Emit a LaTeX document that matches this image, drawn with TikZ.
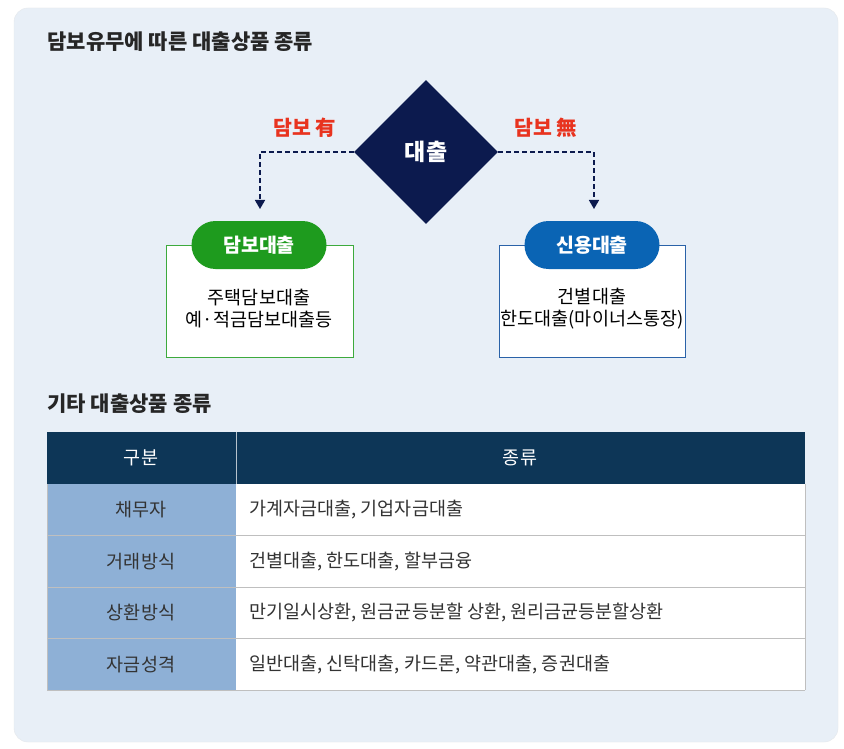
\documentclass[tikz,border=0pt]{standalone}
\usepackage{fontspec}
\setmainfont{Noto Sans CJK KR}
\newfontfamily\medfont{Noto Sans CJK KR Medium}
\usetikzlibrary{shapes.geometric,arrows.meta}
\definecolor{bgc}{HTML}{E8EFF7}
\definecolor{navy}{HTML}{0C1A4E}
\definecolor{redl}{HTML}{E8331F}
\definecolor{grn}{HTML}{1E9B1E}
\definecolor{grnb}{HTML}{3DAA3D}
\definecolor{blu}{HTML}{0A64B4}
\definecolor{blub}{HTML}{2A62A8}
\definecolor{hdr}{HTML}{0D3657}
\definecolor{colc}{HTML}{8EB0D6}
\definecolor{txt}{HTML}{333333}
\tikzset{
 conn/.style={navy,dashed,line width=1.6pt,dash pattern=on 5pt off 3pt,-{Triangle[length=9pt,width=10pt]}},
 pill/.style={rounded corners=24pt,minimum width=135pt,minimum height=48pt,text=white,font=\fontsize{19.5}{22}\selectfont\bfseries},
 body/.style={fill=white,line width=1pt},
 cell/.style={font=\fontsize{18.5}{22}\selectfont,text=txt},
 ttl/.style={anchor=west,font=\fontsize{21}{24}\selectfont\bfseries,text=black!85},
}
\begin{document}
\begin{tikzpicture}[x=1pt,y=-1pt]
\useasboundingbox (0,0) rectangle (844,749);
\fill[white] (0,0) rectangle (844,749);
\draw[bgc!80!gray!60,fill=bgc,rounded corners=14pt] (14,8) rectangle (838,742);
\node[ttl] (t1) at (44,42) {담보유무에 따른 대출상품 종류};
\node[diamond,fill=navy,minimum width=144pt,minimum height=144pt,inner sep=0pt,text=white,font=\fontsize{23}{26}\selectfont\bfseries] (d) at (426,152) {대출};
\node[text=redl,font=\fontsize{20.5}{24}\selectfont\bfseries] (l1) at (305,128) {담보 有};
\node[text=redl,font=\fontsize{20.5}{24}\selectfont\bfseries] (l2) at (546,128) {담보 無};
\draw[body,draw=grnb] (166,245) rectangle (353,357);
\draw[body,draw=blub] (499,245) rectangle (685,357);
\coordinate (ga) at (260,209);
\coordinate (ba) at (594,209);
\draw[conn] (d.west) -| (ga);
\draw[conn] (d.east) -| (ba);
\node[pill,fill=grn] (p1) at (259,245) {담보대출};
\node[pill,fill=blu] (p2) at (592,245) {신용대출};
\node[cell,text=black,align=center] (b1) at (259,309) {주택담보대출\\[0pt]예·적금담보대출등};
\node[cell,text=black,align=center] (b2) at (592,309) {건별대출\\[0pt]한도대출(마이너스통장)};
\node[ttl] (t2) at (44,404) {기타 대출상품 종류};
\fill[hdr] (47,432) rectangle (805,484);
\draw[white!70!hdr,line width=0.8pt] (236,432) -- (236,484);
\node[cell,text=white] (h1) at (141,458) {구분};
\node[cell,text=white] (h2) at (520,458) {종류};
\foreach \i/\a/\b in {0/채무자/{가계자금대출, 기업자금대출},1/거래방식/{건별대출, 한도대출, 할부금융},2/상환방식/{만기일시상환, 원금균등분할 상환, 원리금균등분할상환},3/자금성격/{일반대출, 신탁대출, 카드론, 약관대출, 증권대출}}{
 \pgfmathsetmacro\ya{484+51.5*\i}
 \pgfmathsetmacro\yb{\ya+51.5}
 \pgfmathsetmacro\ym{\ya+25.75}
 \fill[colc] (47,\ya) rectangle (236,\yb);
 \fill[white] (236,\ya) rectangle (805,\yb);
 \node[cell] (c\i) at (141,\ym) {\a};
 \node[cell,anchor=west] (v\i) at (246,\ym) {\b};
}
\foreach \y in {535.5,587,638.5,690}{\draw[black!25,line width=0.8pt] (47,\y) -- (805,\y);}
\draw[black!25,line width=0.8pt] (805,484) -- (805,690) (47,484) -- (47,690);
\end{tikzpicture}
\end{document}
